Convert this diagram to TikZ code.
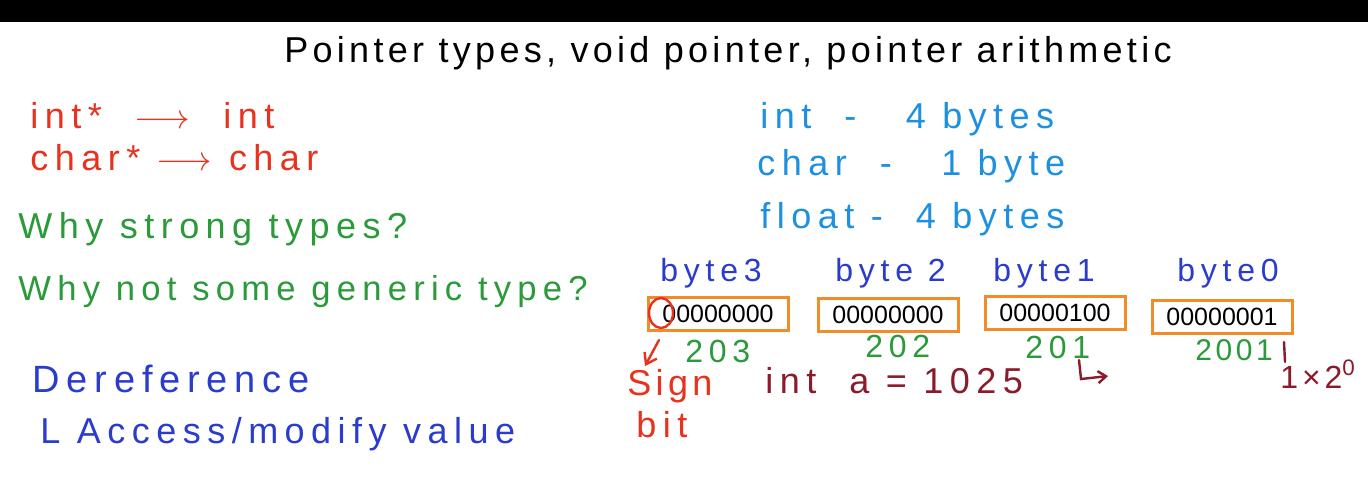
\documentclass[tikz,border=0pt]{standalone}
\usepackage{fontspec}
\setmainfont{Liberation Sans}
\newfontfamily\hand[LetterSpace=18]{Liberation Sans}
\newfontfamily\handt[LetterSpace=12]{Liberation Sans}
\newfontfamily\boxfont{Liberation Sans}
\usetikzlibrary{arrows.meta,shapes.geometric}
\definecolor{cred}{HTML}{E8321E}
\definecolor{cgreen}{HTML}{2A9A3A}
\definecolor{cblue}{HTML}{2A3CCC}
\definecolor{clblue}{HTML}{1E90E0}
\definecolor{cdred}{HTML}{8B1A2A}
\definecolor{corange}{HTML}{F28C28}
\tikzset{
  txt/.style={anchor=base west, inner sep=0pt, font=\hand\fontsize{18}{20}\selectfont},
  small/.style={font=\hand\fontsize{16}{18}\selectfont},
  bytebox/.style={draw=corange, line width=1.5pt, minimum width=70pt, minimum height=16.5pt, inner sep=0pt, font=\boxfont\fontsize{12.5}{14}\selectfont},
  penline/.style={line width=1.2pt, line cap=round}
}
\begin{document}
\begin{tikzpicture}[x=0.5pt,y=-0.5pt]
\useasboundingbox (0,0) rectangle (1368,500);
\fill[white] (0,0) rectangle (1368,500);
\fill[black] (0,0) rectangle (1368,22);
\node[txt, font=\handt\fontsize{18}{20}\selectfont, anchor=base] (title) at (728,62) {Pointer types, void pointer, pointer arithmetic};
% red
\node[txt, text=cred] (l1) at (30,128) {int*\ \ $\longrightarrow$\ \ int};
\node[txt, text=cred] (l2) at (30,170) {char*\ $\longrightarrow$\ char};
% green
\node[txt, text=cgreen] (q1) at (18,238) {Why strong types?};
\node[txt, text=cgreen, font=\hand\fontsize{17.3}{19}\selectfont] (q2) at (18,300) {Why not some generic type?};
% blue
\node[txt, text=cblue, font=\hand\fontsize{19}{21}\selectfont] (d1) at (32,392) {Dereference};
\node[txt, text=cblue] (d2) at (40,443) {L Access/modify value};
% light blue sizes
\node[txt, text=clblue] (s1) at (760,128) {int\ \ -\ \ \ 4 bytes};
\node[txt, text=clblue] (s2) at (757,175) {char\ \ -\ \ \ 1 byte};
\node[txt, text=clblue] (s3) at (760,228) {float\ -\ \ 4 bytes};
% byte labels
\node[txt, text=cblue, small] (b3) at (660,281) {byte3};
\node[txt, text=cblue, small] (b2) at (835,281) {byte 2};
\node[txt, text=cblue, small] (b1) at (993,281) {byte1};
\node[txt, text=cblue, small] (b0) at (1177,281) {byte0};
% boxes
\node[bytebox] (x3) at (718,313.5) {00000000};
\node[bytebox] (x2) at (888,314.5) {00000000};
\node[bytebox] (x1) at (1055,313) {00000100};
\node[bytebox] (x0) at (1222,316.5) {00000001};
% addresses
\node[txt, text=cgreen, small] (a3) at (685,362) {203};
\node[txt, text=cgreen, small] (a2) at (865,357) {202};
\node[txt, text=cgreen, small] (a1) at (1025,358) {201};
\node[txt, text=cgreen, font=\handt\fontsize{15}{17}\selectfont] (a0) at (1195,360) {2001};
% sign bit
\node[draw=cred, line width=1.2pt, ellipse, minimum width=12pt, minimum height=15pt, inner sep=0pt] (sc) at (661,313) {};
\coordinate (sa) at (659,340);
\coordinate (sb) at (645,366);
\draw[cred, penline, -{Straight Barb[length=5pt,width=7pt]}] (sa) -- (sb);
\node[txt, text=cred, font=\handt\fontsize{18}{20}\selectfont] (sign) at (627,395) {Sign};
\node[txt, text=cred] (bit) at (636,437) {bit};
% int a
\node[txt, text=cdred] (ia) at (765,393) {int\ \ a = 1025};
\coordinate (h0) at (1079,360);
\coordinate (h1) at (1081,379);
\coordinate (h2) at (1108,376);
\draw[cdred, penline, -{Straight Barb[length=4pt,width=6pt]}] (h0) -- (h1) -- (h2);
\coordinate (v0) at (1284,342);
\coordinate (v1) at (1285,362);
\draw[cdred, penline] (v0) -- (v1);
\node[txt, text=cdred, font=\handt\fontsize{16}{18}\selectfont] (pw) at (1280,388) {1×2\textsuperscript{0}};
\end{tikzpicture}
\end{document}
